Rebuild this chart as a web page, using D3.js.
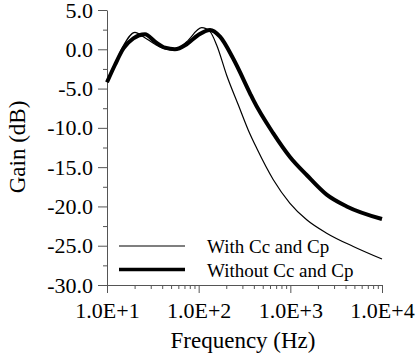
<!DOCTYPE html>
<html>
<head>
<meta charset="utf-8">
<script src="https://cdn.jsdelivr.net/npm/d3@7"></script>
<style>
  body { margin: 0; background: white; }
  text { font-family: "Liberation Serif", "Times New Roman", serif; fill: black; }
</style>
</head>
<body>
<div id="container"></div>
<script>
/* CONSTANTS AND GLOBALS */
const width = 417,
height = 360,
margin = { top: 10, bottom: 75, left: 107, right: 35 }

/* DATA */
const freqWith = [10, 12.2, 15.1, 20.2, 24.9, 33.4, 43, 55, 74, 108, 133, 157, 202, 271, 348, 430, 652, 991, 1508, 2490, 4860, 10000]
const gainWith = [-4.2, -1.9, 0.46, 2.16, 1.6, 0.64, 0.04, -0.1, 0.97, 2.75, 2.24, 0.55, -3.3, -7.1, -10.3, -12.6, -16.6, -19.6, -21.7, -23.4, -25.1, -26.7]

const freqWithout = [10, 12.2, 15.1, 19.4, 26, 33.4, 43, 55, 74, 99, 133, 171, 237, 363, 394, 652, 991, 1508, 2490, 4120, 10000]
const gainWithout = [-4.2, -2.0, 0.1, 1.4, 1.9, 0.97, 0.2, 0.0, 0.64, 1.82, 2.45, 1.6, -1.15, -5.6, -6.45, -10.7, -13.7, -16.0, -18.5, -20.0, -21.6]

const xMajorTicks = [10, 100, 1000, 10000]
const xTickLabels = ["1.0E+1", "1.0E+2", "1.0E+3", "1.0E+4"]
const yMajorTicks = [5, 0, -5, -10, -15, -20, -25, -30]

const seriesNames = ["With Cc and Cp", "Without Cc and Cp"]

const withData = freqWith.map((f, i) => ({ f: f, g: gainWith[i] }))
const withoutData = freqWithout.map((f, i) => ({ f: f, g: gainWithout[i] }))

// SCALES
const xScale = d3.scaleLog()
  .domain([10, 10000])
  .range([margin.left, width - margin.right])

const yScale = d3.scaleLinear()
  .domain([-30, 5])
  .range([height - margin.bottom, margin.top])

// minor ticks
const xMinorTicks = []
xMajorTicks.slice(0, -1).forEach(d => {
  for (let k = 2; k <= 9; k++) xMinorTicks.push(d * k)
})
const yMinorTicks = d3.range(-27.5, 5, 5)

// CREATE SVG ELEMENT
const svg = d3.select("#container")
  .append("svg")
  .attr("width", width)
  .attr("height", height)

// AXES
const axisColor = "#555"

const xMinor = svg.append("g")
  .attr("transform", `translate(0, ${height - margin.bottom})`)
  .call(d3.axisBottom(xScale).tickValues(xMinorTicks).tickSize(4).tickFormat(""))
xMinor.select(".domain").remove()

const xAxisGroup = svg.append("g")
  .attr("class", "xAxis")
  .attr("transform", `translate(0, ${height - margin.bottom})`)
  .call(d3.axisBottom(xScale)
    .tickValues(xMajorTicks)
    .tickSizeInner(8)
    .tickSizeOuter(0)
    .tickFormat((d, i) => xTickLabels[i]))

xAxisGroup.selectAll("text")
  .attr("dy", null)
  .attr("y", 33)
  .style("font-size", "22px")

const yMinor = svg.append("g")
  .attr("transform", `translate(${margin.left}, 0)`)
  .call(d3.axisLeft(yScale).tickValues(yMinorTicks).tickSize(4).tickFormat(""))
yMinor.select(".domain").remove()

const yAxisGroup = svg.append("g")
  .attr("class", "yAxis")
  .attr("transform", `translate(${margin.left}, 0)`)
  .call(d3.axisLeft(yScale)
    .tickValues(yMajorTicks)
    .tickSizeInner(9)
    .tickSizeOuter(0)
    .tickPadding(5)
    .tickFormat(d => d.toFixed(1)))

yAxisGroup.selectAll("text")
  .style("font-size", "22px")

svg.selectAll(".domain, .tick line")
  .attr("stroke", axisColor)

// LINE GENERATOR FUNCTION
const lineGen = d3.line()
  .x(d => xScale(d.f))
  .y(d => yScale(d.g))
  .curve(d3.curveMonotoneX)

// DRAW LINES
svg.append("path")
  .datum(withData)
  .attr("d", lineGen)
  .attr("fill", "none")
  .attr("stroke", "black")
  .attr("stroke-width", 1.2)

svg.append("path")
  .datum(withoutData)
  .attr("d", lineGen)
  .attr("fill", "none")
  .attr("stroke", "black")
  .attr("stroke-width", 4)

// LEGEND
const legend = svg.append("g")
const legendRows = [
  { name: seriesNames[0], y: 246, w: 1.2 },
  { name: seriesNames[1], y: 269.5, w: 3.5 }
]
legendRows.forEach(r => {
  legend.append("line")
    .attr("x1", 119).attr("x2", 185)
    .attr("y1", r.y).attr("y2", r.y)
    .attr("stroke", "black")
    .attr("stroke-width", r.w)
  legend.append("text")
    .attr("x", 207)
    .attr("y", r.y + 7)
    .style("font-size", "19px")
    .text(r.name)
})

// AXES LABELS
svg.append("text")
  .attr("text-anchor", "middle")
  .attr("x", 243)
  .attr("y", 348)
  .style("font-size", "23px")
  .text("Frequency (Hz)")

svg.append("text")
  .attr("text-anchor", "middle")
  .attr("transform", "rotate(-90)")
  .attr("x", -147)
  .attr("y", 25)
  .style("font-size", "23px")
  .text("Gain (dB)")
</script>
</body>
</html>
